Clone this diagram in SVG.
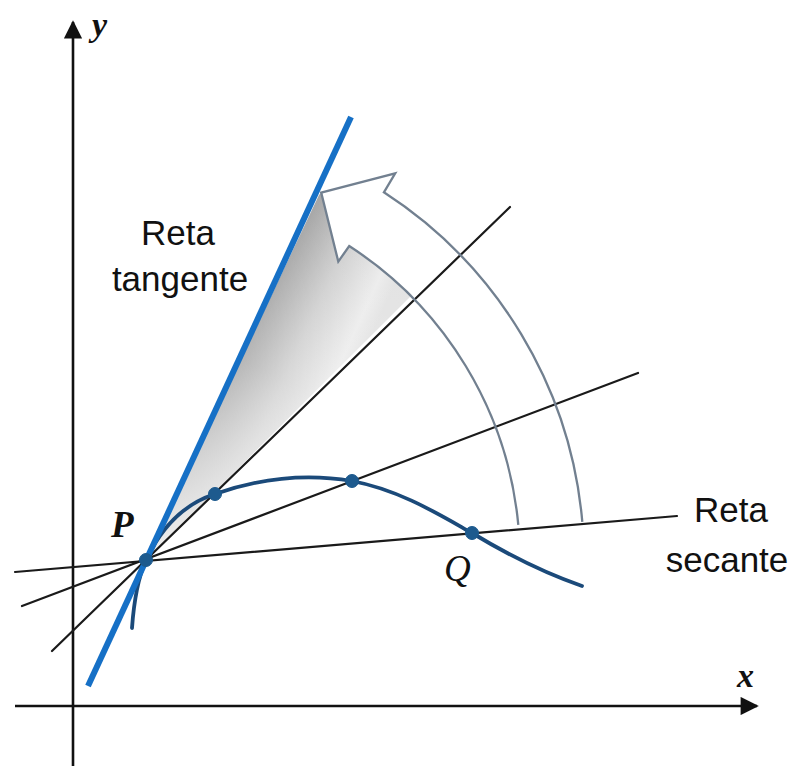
<svg xmlns="http://www.w3.org/2000/svg" width="800" height="771" viewBox="0 0 800 771">
<style>
.axis{stroke:#111;stroke-width:2.6;fill:none}
.sec{stroke:#1a1a1a;stroke-width:2.2;fill:none;stroke-linecap:round}
.arc{stroke:#728090;stroke-width:2.3;fill:none;stroke-linejoin:miter}
.lbl{font-family:"Liberation Sans",Arial,sans-serif;font-size:35px;fill:#111}
.var{font-family:"Liberation Serif","Times New Roman",serif;font-style:italic;fill:#111}
.dot{fill:#1d5a8e;stroke:#1d5a8e;stroke-width:1}
</style>
<defs>
<marker id="ah" viewBox="0 0 10 10" refX="9" refY="5" markerWidth="7.5" markerHeight="7" orient="auto" markerUnits="strokeWidth">
<path d="M0,0 L10,5 L0,10 Z" fill="#111"/>
</marker>
<linearGradient id="shade" gradientUnits="userSpaceOnUse" x1="248" y1="340" x2="348" y2="386">
<stop offset="0" stop-color="#a2a2a2"/>
<stop offset="0.45" stop-color="#cfcfcf"/>
<stop offset="0.85" stop-color="#ececec"/>
<stop offset="1" stop-color="#e2e2e2"/>
</linearGradient>
<linearGradient id="fade" gradientUnits="userSpaceOnUse" x1="146" y1="560" x2="330" y2="200">
<stop offset="0" stop-color="#fff" stop-opacity="0.85"/>
<stop offset="0.55" stop-color="#fff" stop-opacity="0.2"/>
<stop offset="1" stop-color="#fff" stop-opacity="0"/>
</linearGradient>
</defs>
<rect width="800" height="771" fill="#fff"/>

<g id="axes">
<line class="axis" x1="73" y1="766" x2="73" y2="22" marker-end="url(#ah)"/>
<line class="axis" x1="15" y1="706" x2="757" y2="706" marker-end="url(#ah)"/>
<text class="var" x="92" y="36" font-size="34" font-weight="bold">y</text>
<text class="var" x="737" y="687" font-size="34" font-weight="bold">x</text>
</g>

<g id="shading">
<path d="M146,560 L319,195 L321.2,192.6 L338.3,261.6 L349.2,246 A374 374 0 0 1 412,295 Z" fill="url(#shade)"/>
<path d="M146,560 L319,195 L321.2,192.6 L338.3,261.6 L349.2,246 A374 374 0 0 1 412,295 Z" fill="url(#fade)"/>
</g>

<g id="connectors">
<line class="sec" x1="15" y1="572" x2="677" y2="516"/>
<line class="sec" x1="22" y1="606" x2="638" y2="373"/>
<line class="sec" x1="52" y1="651" x2="510" y2="207"/>
</g>

<g id="sweep-arrow">
<path class="arc" d="M582.3,521.8 A438 438 0 0 0 383.9,192.3 L395.2,173.3 L321.2,192.6 L338.3,261.6 L349.2,246 A374 374 0 0 1 518.3,524.8"/>
</g>

<g id="curve">
<path d="M132,628 C134,600 138,578 146,560 C165,520 190,502 215,494 C255,480 300,472 352,481 C400,490 440,515 472,533 C510,556 550,575 582,586" fill="none" stroke="#1b4a7a" stroke-width="3.8" stroke-linecap="round"/>
</g>

<g id="tangent">
<line x1="88" y1="686" x2="351" y2="117" stroke="#1670c6" stroke-width="6"/>
</g>

<g id="points">
<circle class="dot" cx="146" cy="560" r="6.5"/>
<circle class="dot" cx="215" cy="494" r="6.5"/>
<circle class="dot" cx="352" cy="481" r="6.5"/>
<circle class="dot" cx="472" cy="533" r="6.5"/>
</g>

<g id="labels">
<text class="var" x="111" y="537" font-size="37" font-weight="bold">P</text>
<text class="var" x="444" y="581" font-size="37">Q</text>
<text class="lbl" x="178" y="245" text-anchor="middle">Reta</text>
<text class="lbl" x="180" y="291" text-anchor="middle">tangente</text>
<text class="lbl" x="731" y="522" text-anchor="middle">Reta</text>
<text class="lbl" x="727" y="572" text-anchor="middle">secante</text>
</g>
</svg>
